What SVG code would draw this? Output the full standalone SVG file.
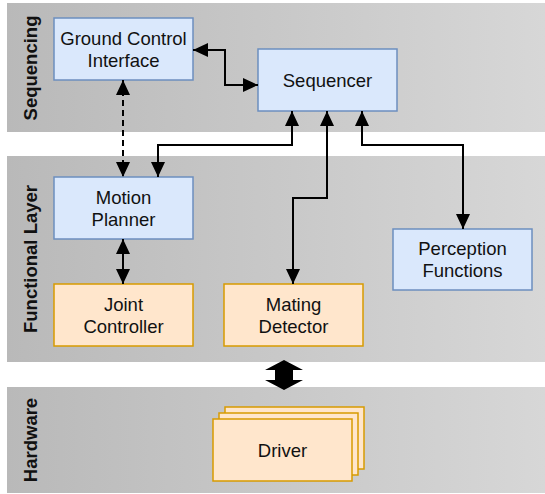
<svg xmlns="http://www.w3.org/2000/svg" width="545" height="494" viewBox="0 0 545 494">
  <defs>
    <linearGradient id="bandFill" x1="0" y1="0" x2="1" y2="0">
      <stop offset="0" stop-color="#b9b9b9"/>
      <stop offset="1" stop-color="#d7d7d7"/>
    </linearGradient>
    <marker id="arrow" viewBox="0 0 15 14" markerWidth="15" markerHeight="14" refX="15" refY="7" orient="auto-start-reverse" markerUnits="userSpaceOnUse">
      <path d="M0,0 L15,7 L0,14 z" fill="#000"/>
    </marker>
    <style>
      .band { fill: url(#bandFill); }
      .bandLabel { font-family: "Liberation Sans", Arial, sans-serif; font-size: 18.5px; font-weight: bold; fill: #111; text-anchor: middle; }
      .blue rect { fill: #dae8fc; stroke: #6c8ebf; stroke-width: 1.5; }
      .orange rect { fill: #ffe6cc; stroke: #d79b00; stroke-width: 1.5; }
      .label { font-family: "Liberation Sans", Arial, sans-serif; font-size: 18.5px; fill: #111; text-anchor: middle; }
      .link { fill: none; stroke: #000; stroke-width: 2; marker-start: url(#arrow); marker-end: url(#arrow); }
      .dashed { stroke-dasharray: 6 4; }
    </style>
  </defs>

  <!-- layer bands -->
  <g id="band-sequencing">
    <rect class="band" x="7" y="3" width="538" height="129"/>
    <text class="bandLabel" transform="translate(37,68) rotate(-90)">Sequencing</text>
  </g>
  <g id="band-functional">
    <rect class="band" x="7" y="156" width="538" height="206"/>
    <text class="bandLabel" transform="translate(37,259) rotate(-90)">Functional Layer</text>
  </g>
  <g id="band-hardware">
    <rect class="band" x="7" y="387" width="538" height="106"/>
    <text class="bandLabel" transform="translate(37,440) rotate(-90)">Hardware</text>
  </g>

  <!-- nodes -->
  <g id="ground-control-interface" class="blue">
    <rect x="54" y="18" width="139" height="62"/>
    <text class="label" x="123.5" y="44.5">Ground Control</text>
    <text class="label" x="123.5" y="66.5">Interface</text>
  </g>
  <g id="sequencer" class="blue">
    <rect x="258" y="49" width="139" height="62"/>
    <text class="label" x="327.5" y="86.5">Sequencer</text>
  </g>
  <g id="motion-planner" class="blue">
    <rect x="54" y="177" width="139" height="62"/>
    <text class="label" x="123.5" y="203.5">Motion</text>
    <text class="label" x="123.5" y="225.5">Planner</text>
  </g>
  <g id="perception-functions" class="blue">
    <rect x="393" y="229" width="139" height="61"/>
    <text class="label" x="462.5" y="254.5">Perception</text>
    <text class="label" x="462.5" y="276.5">Functions</text>
  </g>
  <g id="joint-controller" class="orange">
    <rect x="54" y="284" width="139" height="62"/>
    <text class="label" x="123.5" y="310.5">Joint</text>
    <text class="label" x="123.5" y="332.5">Controller</text>
  </g>
  <g id="mating-detector" class="orange">
    <rect x="224" y="284" width="139" height="62"/>
    <text class="label" x="293.5" y="310.5">Mating</text>
    <text class="label" x="293.5" y="332.5">Detector</text>
  </g>
  <g id="driver" class="orange">
    <rect x="225" y="407" width="139" height="62"/>
    <rect x="219" y="413" width="139" height="62"/>
    <rect x="213" y="419" width="139" height="62"/>
    <text class="label" x="282.5" y="456.5">Driver</text>
  </g>

  <!-- connectors -->
  <g id="connectors">
    <path class="link" d="M193,50 H225 V85 H258"/>
    <path class="link dashed" d="M123,80 V177"/>
    <path class="link" d="M292,111 V145 H158 V177"/>
    <path class="link" d="M327,111 V198 H293 V284"/>
    <path class="link" d="M362,111 V145 H463 V229"/>
    <path class="link" d="M123,239 V284"/>
    <!-- functional layer / hardware interface -->
    <polygon points="284,360 303,370 293,370 293,380 303,380 284,390 265,380 275,380 275,370 265,370" fill="#000"/>
  </g>
</svg>
